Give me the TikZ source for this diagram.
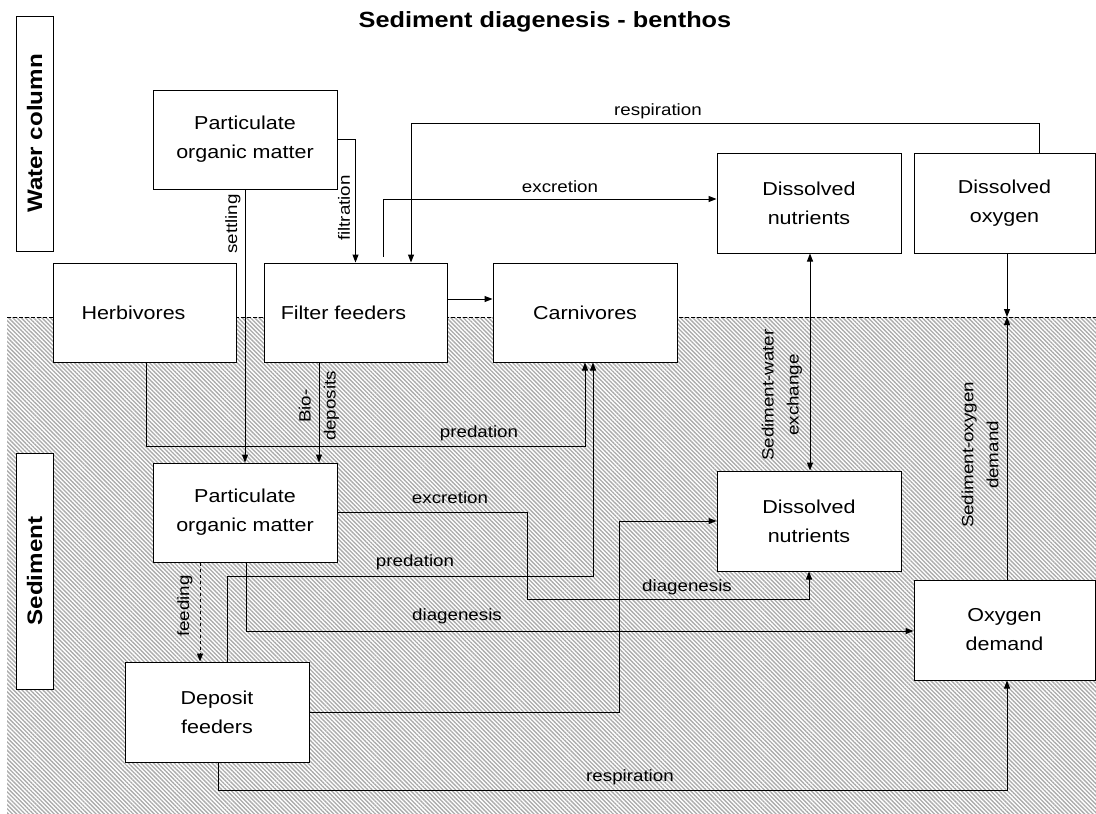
\documentclass[tikz,border=0pt]{standalone}
\usepackage{fontspec}
\setmainfont{Liberation Sans}[FakeStretch=1.15]
\usetikzlibrary{arrows.meta,patterns.meta}

\newcommand\boxfont{\fontsize{18.7}{29}\selectfont}
\newcommand\lblfont{\fontsize{16.3}{25}\selectfont}
\newcommand\headfont{\fontsize{21}{25}\selectfont\bfseries}

\begin{document}
\begin{tikzpicture}[x=1pt,y=-1pt,
  box/.style={draw, fill=white, line width=1pt, minimum width=184pt,
    minimum height=99pt, align=center, inner sep=0pt, font=\boxfont},
  sidebox/.style={draw, fill=white, line width=1pt, rotate=90,
    minimum height=37pt, inner sep=0pt, font=\headfont},
  lbl/.style={inner sep=0pt, align=center, font=\lblfont},
  arr/.style={-{Triangle[length=8pt,width=6pt]}, line width=1pt},
  arrboth/.style={{Triangle[length=8pt,width=6pt]}-{Triangle[length=8pt,width=6pt]}, line width=1pt}
]
\useasboundingbox (0,0) rectangle (1096,814);

% sediment layer
\fill[pattern={Lines[angle=-45,distance=2.95pt,line width=1.35pt]}, pattern color=black!33]
  (7,317) rectangle (1096,814);
\draw[line width=0.8pt, dash pattern=on 4pt off 2pt] (7,317) -- (1096,317);

% title and layer labels
\node[font=\fontsize{22}{26}\selectfont\bfseries] (title) at (545,22) {Sediment diagenesis - benthos};
\node[sidebox, minimum width=235pt] (wc) at (34.5,133.5) {Water column};
\node[sidebox, minimum width=236pt] (sed) at (34.5,571) {Sediment};

% compartments
\node[box] (potop) at (245,139.5) {Particulate\\organic matter};
\node[box, minimum width=183pt] (herb) at (144.5,312.5) {Herbivores\hspace*{22pt}};
\node[box, minimum width=183pt] (filt) at (355.5,312.5) {Filter feeders\hspace*{24pt}};
\node[box] (carn) at (585,312.5) {Carnivores};
\node[box, minimum height=100pt] (dntop) at (809,203) {Dissolved\\nutrients};
\node[box, minimum width=181pt, minimum height=100pt] (dox) at (1004.5,203) {Dissolved\\oxygen};
\node[box] (posed) at (245,512.5) {Particulate\\organic matter};
\node[box, minimum height=100pt] (depf) at (217,712) {Deposit\\feeders};
\node[box, minimum height=100pt] (dnsed) at (809,521) {Dissolved\\nutrients};
\node[box, minimum width=181pt, minimum height=100pt] (oxd) at (1004.5,630) {Oxygen\\demand};

\coordinate (surf) at (1007,317);

% water column fluxes
\draw[arr] (potop.south) -- (posed.north);
\draw[arr] (potop.east) -| (filt.north);
\draw[arr] ([xshift=27.5pt,yshift=6pt]filt.north) |- ([yshift=4pt]dntop.west);
\draw[arr] ([xshift=34.5pt]dox.north) -- ++(0,-29) -| ([xshift=55.5pt]filt.north);
\draw[arr] ([yshift=13.5pt]filt.east) -- ([yshift=13.5pt]carn.west);
\draw[arr] ([xshift=2.5pt]dox.south) -- (surf);

% sediment fluxes
\draw[arr] ([xshift=1.5pt]herb.south) -- ++(0,84) -| (carn.south);
\draw[arr] ([xshift=-36.5pt]filt.south) -- ([xshift=-36.5pt]filt.south |- posed.north);
\draw[arr] ([xshift=10pt]depf.north) -- ++(0,-85) -| ([xshift=8pt]carn.south);
\draw[arr] (posed.east) -- ++(190,0) -- ++(0,87) -| (dnsed.south);
\draw[arr] ([xshift=1pt]posed.south) |- ([yshift=-1pt]oxd.west);
\draw[arr] (depf.east) -- ++(310,0) |- (dnsed.west);
\draw[arr] ([xshift=1pt]depf.south) -- ++(0,28) -| ([xshift=2.5pt]oxd.south);
\draw[arr, dashed] ([xshift=-45pt]posed.south) -- ([xshift=-45pt]posed.south |- depf.north);
\draw[arrboth] ([xshift=1pt]dntop.south) -- ([xshift=1pt]dnsed.north);
\draw[arr] ([xshift=2.5pt]oxd.north) -- (surf);

% flux labels
\node[lbl, rotate=90] (l-settle) at (233,224) {settling};
\node[lbl, rotate=90] (l-filt) at (344,208) {filtration};
\node[lbl] (l-excr1) at (560,187) {excretion};
\node[lbl] (l-resp1) at (658,111) {respiration};
\node[lbl] (l-pred1) at (479,433) {predation};
\node[lbl, rotate=90] (l-bio) at (319,406) {Bio-\\deposits};
\node[lbl] (l-excr2) at (450,498) {excretion};
\node[lbl] (l-pred2) at (415,562) {predation};
\node[lbl] (l-diag1) at (457,616) {diagenesis};
\node[lbl] (l-diag2) at (687,587) {diagenesis};
\node[lbl] (l-resp2) at (630,777) {respiration};
\node[lbl, rotate=90] (l-feed) at (185,606) {feeding};
\node[lbl, rotate=90] (l-swx) at (782,395) {Sediment-water\\exchange};
\node[lbl, rotate=90] (l-sod) at (980,455) {Sediment-oxygen\\demand};
\end{tikzpicture}
\end{document}
